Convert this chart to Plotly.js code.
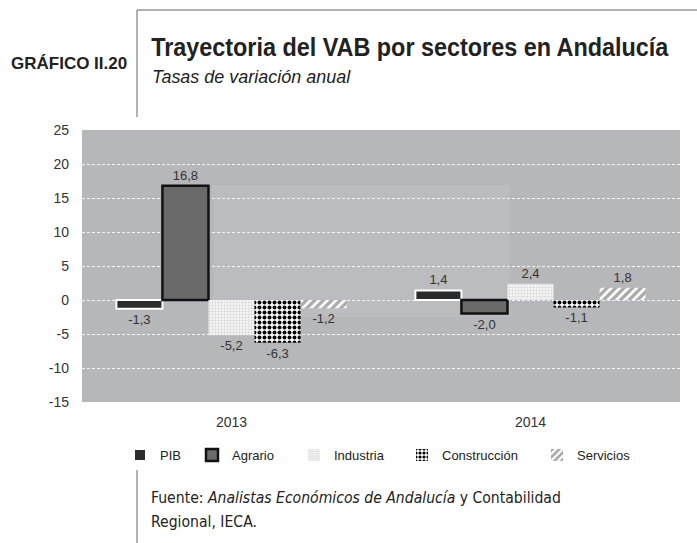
<!DOCTYPE html>
<html>
<head>
<meta charset="utf-8">
<script src="https://cdn.plot.ly/plotly-3.0.1.min.js"></script>
<style>html,body{margin:0;padding:0;background:#fff;}#chart{width:697px;height:543px;}</style>
</head>
<body>
<div id="chart"></div>
<script>
var years = ["2013", "2014"];
var seriesNames = ["PIB", "Agrario", "Industria", "Construcción", "Servicios"];
var pib = [-1.3, 1.4];
var agrario = [16.8, -2.0];
var industria = [-5.2, 2.4];
var construccion = [-6.3, -1.1];
var servicios = [-1.2, 1.8];
var yTicks = [-15, -10, -5, 0, 5, 10, 15, 20, 25];

var L = 82, R = 680, T = 130, B = 402;
function px(x) { return (x - L) / (R - L); }
function py(y) { return (B - y) / (B - T); }

var SANS = "Liberation Sans, Arial, sans-serif";
var txtFont = {family: SANS, size: 13, color: "#333"};
function bar(name, vals, marker, legendId) {
  return {
    type: "bar", name: name, x: years, y: vals,
    texttemplate: "%{y:.1f}", textposition: "outside", textfont: txtFont,
    cliponaxis: false, marker: marker, hoverinfo: "skip", legend: legendId
  };
}
var data = [
  bar(seriesNames[0], pib, {color: "#2b2b2b", line: {color: "#ffffff", width: 2}}, "legend"),
  bar(seriesNames[1], agrario, {color: "#6a6a6a", line: {color: "#111111", width: 2.5}}, "legend2"),
  bar(seriesNames[2], industria, {color: "#f2f2f2", pattern: {shape: "+", fgcolor: "#d4d4d4", bgcolor: "#f4f4f4", size: 3, solidity: 0.3}, line: {width: 0}}, "legend3"),
  bar(seriesNames[3], construccion, {color: "#ffffff", pattern: {shape: ".", fgcolor: "#000000", bgcolor: "#ffffff", size: 5, solidity: 0.5}, line: {width: 0}}, "legend4"),
  bar(seriesNames[4], servicios, {color: "#ffffff", pattern: {shape: "/", fgcolor: "#ffffff", bgcolor: "#a9a9a9", size: 6, solidity: 0.45}, line: {width: 0}}, "legend5")
];

function leg(textX) {
  return {orientation: "h", x: px(textX - 40), xanchor: "left", y: py(455), yanchor: "middle",
    font: {family: SANS, size: 13, color: "#222"}, bgcolor: "rgba(0,0,0,0)", itemwidth: 30};
}

var layout = {
  width: 697, height: 543,
  margin: {l: L, r: 697 - R, t: T, b: 543 - B, pad: 0},
  paper_bgcolor: "#ffffff", plot_bgcolor: "#b6b7b9",
  separators: ",.",
  barmode: "group", bargap: 0.23, bargroupgap: 0,
  showlegend: true,
  legend: leg(160), legend2: leg(232), legend3: leg(334), legend4: leg(442), legend5: leg(577),
  xaxis: {type: "category", showgrid: false, zeroline: false, showline: false, ticks: "",
    ticklabelstandoff: 10,
    tickfont: {family: SANS, size: 14, color: "#333"}},
  yaxis: {range: [-15, 25], tickvals: yTicks, ticktext: yTicks.map(String), showgrid: true,
    gridcolor: "#f4f4f4", griddash: "3px,2px", gridwidth: 1, zeroline: false, showline: false, ticks: "",
    ticklabelstandoff: 12,
    tickfont: {family: SANS, size: 14, color: "#333"}},
  shapes: [
    {type: "rect", xref: "paper", yref: "paper", x0: px(213), x1: px(510), y0: py(317), y1: py(185),
      fillcolor: "rgba(255,255,255,0.08)", line: {width: 0}, layer: "below"},
    {type: "line", xref: "paper", yref: "paper", x0: px(137), x1: px(137), y0: py(10), y1: py(117), line: {color: "#666", width: 1}},
    {type: "line", xref: "paper", yref: "paper", x0: px(137), x1: px(697), y0: py(10), y1: py(10), line: {color: "#666", width: 1}},
    {type: "line", xref: "paper", yref: "paper", x0: px(137), x1: px(137), y0: py(470), y1: py(543), line: {color: "#666", width: 1}}
  ],
  annotations: [
    {xref: "paper", yref: "paper", x: px(129), y: py(63), xanchor: "right", yanchor: "middle", showarrow: false,
      text: "<b>GRÁFICO II.20</b>", font: {family: SANS, size: 17, color: "#222"}},
    {xref: "paper", yref: "paper", x: px(149), y: py(47), xanchor: "left", yanchor: "middle", showarrow: false,
      text: "<b>Trayectoria del VAB por sectores en Andalucía</b>", font: {family: SANS, size: 26, color: "#222"}},
    {xref: "paper", yref: "paper", x: px(150), y: py(76), xanchor: "left", yanchor: "middle", showarrow: false,
      text: "<i>Tasas de variación anual</i>", font: {family: SANS, size: 19, color: "#222"}},
    {xref: "paper", yref: "paper", x: px(149), y: py(498), xanchor: "left", yanchor: "middle", showarrow: false, align: "left",
      text: "Fuente: <i>Analistas Económicos de Andalucía</i> y Contabilidad", font: {family: "DejaVu Sans Condensed, DejaVu Sans, sans-serif", size: 15.6, color: "#222"}},
    {xref: "paper", yref: "paper", x: px(149), y: py(522), xanchor: "left", yanchor: "middle", showarrow: false, align: "left",
      text: "Regional, IECA.", font: {family: "DejaVu Sans Condensed, DejaVu Sans, sans-serif", size: 15.6, color: "#222"}}
  ]
};

function squeeze(gd, idx, targetW) {
  var anns = gd.querySelectorAll(".annotation");
  if (!anns[idx]) return;
  var t = anns[idx].querySelector("text.annotation-text");
  if (!t) return;
  var bb = t.getBBox();
  if (!bb.width) return;
  var sx = targetW / bb.width;
  t.setAttribute("transform", "matrix(" + sx + ",0,0,1," + (bb.x * (1 - sx)) + ",0)");
}

Plotly.newPlot("chart", data, layout, {staticPlot: true, displayModeBar: false}).then(function (gd) {
  squeeze(gd, 1, 518);
  squeeze(gd, 2, 199);
});
</script>
</body>
</html>
